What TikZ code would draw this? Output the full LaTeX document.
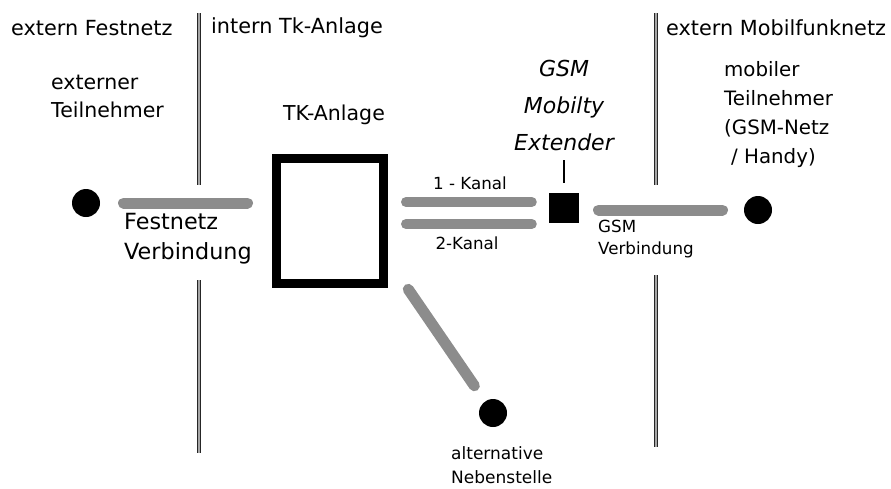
\documentclass[tikz,border=0pt]{standalone}
\usepackage{fontspec}
\setmainfont{DejaVu Sans}
\usetikzlibrary{positioning}
\tikzset{
  cable/.style={line width=11pt,line cap=round,draw=black!45},
  station/.style={circle,fill=black,minimum size=28pt,inner sep=0pt},
  divider/.style={double=black!35,double distance=1.2pt,line width=1pt,draw=black!85},
  head/.style={inner sep=0pt,anchor=west,font=\fontsize{20.8}{28}\selectfont},
  txt/.style={inner sep=0pt,align=left,font=\fontsize{20.5}{28}\selectfont},
  small/.style={inner sep=0pt,align=left,font=\fontsize{16.7}{22}\selectfont}
}
\begin{document}
\begin{tikzpicture}[x=1pt,y=-1pt]
\useasboundingbox (0,0) rectangle (891,488);
%dividers
\draw[divider](199,13)--(199,185);
\draw[divider](199,280)--(199,453);
\draw[divider](656,13)--(656,185);
\draw[divider](656,275)--(656,447);
%headers
\node[head]at(11,28){extern Festnetz};
\node[head]at(211,28){intern Tk-Anlage};
\node[head]at(666,28){extern Mobilfunknetz};
%stations
\node[station](fixdot)at(86,203){};
\node[draw,line width=9pt,minimum width=107pt,minimum height=125pt,inner sep=0pt](tk)at(330,221){};
\node[fill=black,minimum size=30pt,inner sep=0pt](ext)at(564,208){};
\node[station](mobdot)at(758,210){};
\node[station](altdot)at(493,413){};
%cables
\draw[cable,shorten <=37.5pt,shorten >=24.5pt](fixdot.center)--(fixdot.center -| tk.west); %Festnetz
\draw[cable,line width=10pt,shorten <=18pt,shorten >=17pt]([yshift=6pt]ext.west -| tk.east)--([yshift=6pt]ext.west); %1-Kanal
\draw[cable,line width=10pt,shorten <=18pt,shorten >=17pt]([yshift=-16pt]ext.west -| tk.east)--([yshift=-16pt]ext.west); %2-Kanal
\draw[cable,shorten <=34.5pt,shorten >=35.5pt](ext.center |- mobdot.center)--(mobdot.center); %GSM
\draw[cable,shorten <=4pt,shorten >=33pt]([xshift=18pt,yshift=2pt]tk.south east)--(altdot.center); %Nebenstelle
\draw[line width=2pt]([yshift=10pt]ext.north)--([yshift=33pt]ext.north);
%labels
\node[txt,anchor=west]at(51,96){externer\\Teilnehmer};
\node[txt]at(334,115){TK-Anlage};
\node[txt,anchor=west,font=\fontsize{22.3}{30}\selectfont]at(124,239){Festnetz\\Verbindung};
\node[small]at(470,183){1 - Kanal};
\node[small]at(467,243){2-Kanal};
\node[inner sep=0pt,align=center,font=\fontsize{22}{37}\selectfont\itshape]at(564,105){GSM\\Mobilty\\Extender};
\node[small,anchor=west]at(598,239){GSM\\Verbindung};
\node[txt,anchor=west,font=\fontsize{19.8}{29}\selectfont]at(724,115){mobiler\\Teilnehmer\\(GSM-Netz\\\hspace{7pt}/ Handy)};
\node[small,anchor=west,font=\fontsize{17}{24}\selectfont]at(451,465){alternative\\Nebenstelle};
\end{tikzpicture}
\end{document}
